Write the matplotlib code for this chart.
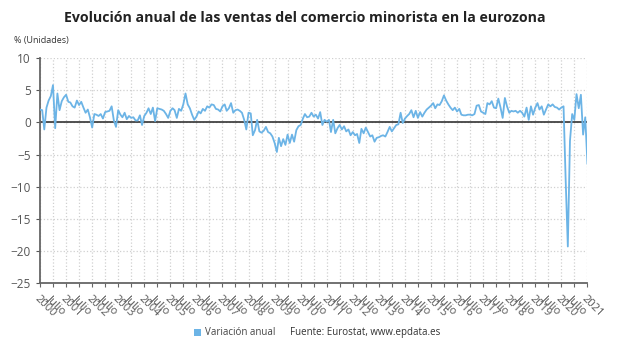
import numpy as np
import pandas as pd
import matplotlib
matplotlib.use('Agg')
from matplotlib import pyplot as plt

plt.rcParams['font.family'] = ['Open Sans', 'DejaVu Sans']

# variacion anual (%) mensual, ene 2000 - ene 2021
v2000 = [2.0, 1.9, -1.1, 2.3, 3.4, 4.1, 5.8, -0.9, 4.5, 1.9, 3.3, 3.9]
v2001 = [4.3, 3.2, 3.1, 2.5, 2.3, 3.4, 2.7, 3.2, 2.3, 1.5, 2.0, 0.8]
v2002 = [-0.8, 1.3, 1.2, 1.0, 1.3, 0.6, 1.6, 1.7, 1.8, 2.5, 0.3, -0.7]
v2003 = [1.9, 1.2, 0.8, 1.5, 0.5, 1.0, 0.7, 0.8, 0.3, 0.3, 1.1, -0.4]
v2004 = [1.0, 1.5, 2.2, 1.3, 2.3, 0.2, 2.2, 2.1, 2.0, 1.8, 1.3, 0.7]
v2005 = [1.8, 2.2, 1.9, 0.7, 2.1, 1.8, 2.8, 4.5, 2.8, 2.2, 1.2, 0.4]
v2006 = [0.9, 1.7, 1.4, 2.1, 1.8, 2.5, 2.3, 2.8, 2.7, 2.1, 2.0, 1.7]
v2007 = [2.5, 2.8, 1.8, 2.2, 3.0, 1.5, 1.9, 2.0, 1.8, 1.5, 0.4, -1.1]
v2008 = [1.5, 1.4, -2.0, -1.2, 0.4, -1.4, -1.6, -1.3, -0.7, -1.5, -1.7, -2.2]
v2009 = [-3.2, -4.6, -2.4, -3.7, -2.6, -3.5, -1.9, -3.2, -1.9, -3.0, -1.2, -0.6]
v2010 = [-0.4, 0.6, 1.3, 0.8, 0.9, 1.5, 0.9, 1.2, 0.6, 1.6, -0.4, 0.4]
v2011 = [0.1, 0.4, -1.5, 0.4, -1.7, -0.9, -0.4, -1.1, -0.6, -1.4, -1.1, -2.0]
v2012 = [-1.5, -2.0, -1.8, -3.2, -1.0, -1.7, -0.8, -1.5, -2.2, -2.0, -3.0, -2.4]
v2013 = [-2.3, -2.1, -2.0, -2.2, -1.5, -0.7, -1.4, -0.9, -0.4, -0.3, 1.5, -0.1]
v2014 = [0.6, 1.0, 1.3, 1.9, 0.8, 1.8, 0.7, 1.6, 0.9, 1.5, 2.0, 2.3]
v2015 = [2.6, 3.0, 2.2, 2.8, 2.7, 3.3, 4.2, 3.4, 2.8, 2.3, 1.9, 2.3]
v2016 = [1.7, 2.1, 1.2, 1.1, 1.1, 1.2, 1.2, 1.1, 1.3, 2.6, 2.7, 1.7]
v2017 = [1.5, 1.3, 3.0, 2.8, 3.3, 2.3, 2.2, 3.7, 2.3, 0.7, 3.8, 2.5]
v2018 = [1.5, 1.8, 1.7, 1.8, 1.5, 1.8, 1.5, 0.9, 2.3, 0.4, 2.5, 1.2]
v2019 = [2.3, 3.0, 2.0, 2.5, 1.2, 2.0, 2.8, 2.5, 2.8, 2.4, 2.3, 2.0]
v2020 = [2.3, 2.5, -8.7, -19.3, -2.9, 1.3, 0.4, 4.4, 2.2, 4.3, -1.9, 0.8]
v2021 = [-6.4]

valores = (v2000 + v2001 + v2002 + v2003 + v2004 + v2005 + v2006 + v2007 +
           v2008 + v2009 + v2010 + v2011 + v2012 + v2013 + v2014 + v2015 +
           v2016 + v2017 + v2018 + v2019 + v2020 + v2021)
fechas = pd.date_range('2000-01-01', periods=len(valores), freq='MS')

# ticks cada 6 meses
ticks = pd.date_range('2000-01-01', '2021-01-01', freq='6MS')
etiquetas = [str(t.year) if t.month == 1 else 'Julio' for t in ticks]

fig = plt.figure(figsize=(6.2, 3.5), dpi=100)
ax = fig.add_axes([0.0645, 0.191, 0.883, 0.643])

ax.plot(fechas, valores, color='#6cb4e6', linewidth=1.3, zorder=3)
ax.axhline(0, color='#333333', linewidth=1.2, zorder=2)

ax.set_xlim(ticks[0], ticks[-1])
ax.set_ylim(-25, 10)
ax.set_yticks([10, 5, 0, -5, -10, -15, -20, -25])
ax.set_xticks(ticks)
ax.set_xticklabels(etiquetas, rotation=-45, ha='left', va='top',
                   rotation_mode='anchor', fontsize=8, color='#555555')
ax.tick_params(axis='y', labelsize=8.5, colors='#555555', length=3, width=0.8)
ax.tick_params(axis='x', length=3, width=0.8, colors='#666666', pad=4)
for lab in ax.get_xticklabels():
    lab.set_color('#555555')

ax.grid(True, color='#d0d0d0', linestyle=':', linewidth=0.9)
for s in ['top', 'right']:
    ax.spines[s].set_visible(False)
ax.spines['left'].set_color('#666666')
ax.spines['left'].set_linewidth(1.3)
ax.spines['bottom'].set_color('#666666')
ax.spines['bottom'].set_linewidth(1.3)

fig.text(0.492, 0.95, 'Evolución anual de las ventas del comercio minorista en la eurozona',
         ha='center', va='center', fontsize=10.2, fontweight='bold', color='#222222')
fig.text(0.022, 0.885, '% (Unidades)', ha='left', va='center', fontsize=6.5, color='#333333')

fig.patches.append(plt.Rectangle((0.313, 0.041), 0.011, 0.02, transform=fig.transFigure,
                                 facecolor='#6cb4e6', edgecolor='none'))
fig.text(0.33, 0.05, 'Variación anual', ha='left', va='center', fontsize=7, color='#444444')
fig.text(0.468, 0.05, 'Fuente: Eurostat, www.epdata.es', ha='left', va='center',
         fontsize=7, color='#333333')

plt.savefig('out.png', dpi=100)
